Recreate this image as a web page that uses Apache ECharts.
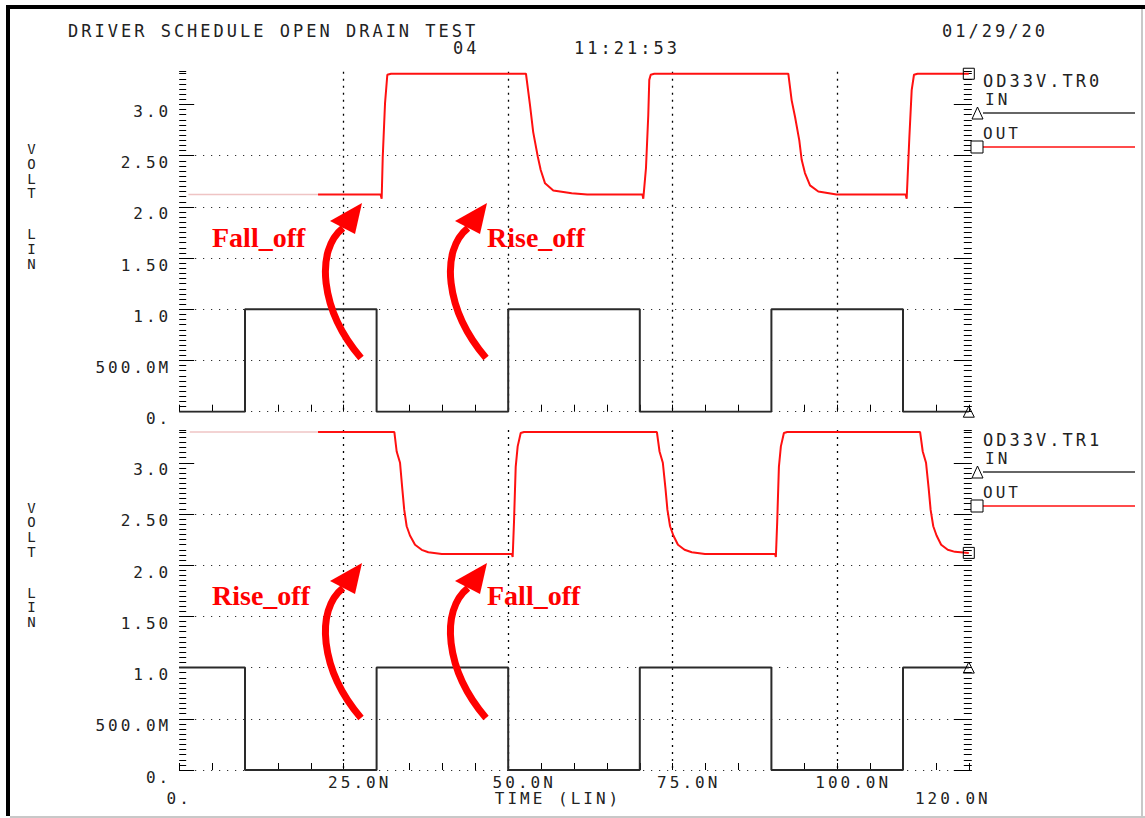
<!DOCTYPE html>
<html>
<head>
<meta charset="utf-8">
<script src="https://cdn.jsdelivr.net/npm/echarts@6/dist/echarts.min.js"></script>
<style>
html, body { margin: 0; padding: 0; background: #fff; }
#main { width: 1145px; height: 818px; }
#main text { letter-spacing: 3px; }
#main text[style*="Serif"] { letter-spacing: 0; }
</style>
</head>
<body>
<div id="main"></div>
<script>
// input square waves: edge times (ns) and levels (V)
var edgeTime = [0, 10, 30, 50, 70, 90, 110, 120];
var inLevel0 = [0, 1, 0, 1, 0, 1, 0, 0];
var inLevel1 = [1, 0, 1, 0, 1, 0, 1, 1];

// OUT of OD33V.TR0
var outTime0 = [1.4, 21.1, 30.6, 30.77, 30.93, 31.28, 31.63, 32.2,
    52.7, 53.3, 53.8, 54.5, 54.94, 55.6, 56.85, 59.65, 62,
    70.4, 70.53, 70.94, 71.29, 71.44, 71.66, 72.2,
    92.57, 93.08, 93.59, 94.24, 94.6, 95.1, 95.87, 97.13, 99.9,
    110.4, 110.56, 110.96, 111.32, 111.67, 112.2, 120];
var outVolt0 = [2.12, 2.12, 2.12, 2.08, 2.48, 3.01, 3.29, 3.30,
    3.30, 3.0, 2.73, 2.49, 2.36, 2.23, 2.16, 2.133, 2.12,
    2.12, 2.08, 2.38, 2.90, 3.24, 3.29, 3.30,
    3.30, 3.04, 2.88, 2.65, 2.46, 2.33, 2.21, 2.15, 2.12,
    2.12, 2.08, 2.67, 3.14, 3.29, 3.30, 3.30];

// OUT of OD33V.TR1
var outTime1 = [1.6, 21.1,
    32.7, 33.05, 33.56, 33.9, 34.2, 34.57, 35.07, 35.84, 36.85, 37.86, 39.9,
    50.55, 50.68, 50.88, 51.14, 51.44, 51.9, 52.4,
    72.6, 73.0, 73.5, 73.9, 74.2, 74.6, 75.1, 75.8, 76.8, 77.9, 79.9,
    90.55, 90.68, 90.88, 91.14, 91.44, 91.9, 92.4,
    112.6, 113.0, 113.5, 113.9, 114.2, 114.6, 115.1, 115.8, 116.8, 117.9, 120];
var outVolt1 = [3.30, 3.30,
    3.30, 3.11, 3.0, 2.75, 2.54, 2.38, 2.29, 2.20, 2.15, 2.126, 2.11,
    2.11, 2.08, 2.42, 2.96, 3.16, 3.29, 3.30,
    3.30, 3.11, 3.0, 2.75, 2.54, 2.38, 2.29, 2.20, 2.15, 2.126, 2.11,
    2.11, 2.08, 2.42, 2.96, 3.16, 3.29, 3.30,
    3.30, 3.11, 3.0, 2.75, 2.54, 2.38, 2.29, 2.20, 2.15, 2.13, 2.12];
var redFrom = 21.1;

var yTickValues = [0, 0.5, 1, 1.5, 2, 2.5, 3];
var yTickLabels = ['0.', '500.0M', '1.0', '1.50', '2.0', '2.50', '3.0'];
var xTickValues = [25, 50, 75, 100];
var xTickLabels = ['25.0N', '50.0N', '75.0N', '100.0N'];
var xEndValues = [0, 120];
var xEndLabels = ['0.', '120.0N'];
var yMax = 3.32;

var MONO = 'DejaVu Sans Mono';
var INK = '#222';

var chart = echarts.init(document.getElementById('main'), null, { renderer: 'svg' });

function pairs(ts, vs) {
    return ts.map(function (t, i) { return [t, vs[i]]; });
}
function markLast(pts, sym, size) {
    var n = pts.length - 1;
    pts[n] = {
        value: pts[n], symbol: sym, symbolSize: size,
        itemStyle: { color: 'rgba(0,0,0,0)', borderColor: '#000', borderWidth: 1 }
    };
    return pts;
}

function yAxes(g) {
    var base = { gridIndex: g, type: 'value', min: 0, max: yMax, axisLine: { show: false, onZero: false }, splitLine: { show: false }, axisLabel: { show: false } };
    var tickStyle = { color: '#000', width: 1 };
    return [
        Object.assign({}, base, {
            position: 'left', interval: 0.5,
            axisTick: { show: true, inside: true, length: 15, customValues: yTickValues, lineStyle: tickStyle },
            axisLabel: {
                show: true, customValues: yTickValues, margin: 8, verticalAlign: 'top', lineHeight: 14,
                color: INK, fontFamily: MONO, fontSize: 16,
                formatter: function (v) { var i = yTickValues.indexOf(v); return i < 0 ? '' : yTickLabels[i]; }
            },
            splitLine: { show: true, showMaxLine: false, lineStyle: { color: '#000', width: 1, type: [1, 7] } }
        }),
        Object.assign({}, base, { position: 'left', interval: 0.05, axisTick: { show: true, inside: true, length: 7, lineStyle: tickStyle } }),
        Object.assign({}, base, { position: 'right', offset: 3, interval: 0.5, axisTick: { show: true, inside: true, length: 18, customValues: yTickValues, lineStyle: tickStyle } }),
        Object.assign({}, base, { position: 'right', offset: 3, interval: 0.05, axisTick: { show: true, inside: true, length: 8, lineStyle: tickStyle } })
    ];
}

function xAxes(g, labels) {
    var base = { gridIndex: g, type: 'value', position: 'bottom', min: 0, max: 120, axisLine: { show: false, onZero: false }, splitLine: { show: false }, axisLabel: { show: false }, axisTick: { show: false } };
    var list = [
        Object.assign({}, base, {
            interval: 25,
            splitLine: { show: true, showMinLine: false, showMaxLine: false, lineStyle: { color: '#000', width: 1.3, type: [2, 5] } },
            axisLabel: labels ? {
                show: true, customValues: xTickValues, margin: 5, align: 'center', padding: [0, 0, 0, 32], lineHeight: 14,
                color: INK, fontFamily: MONO, fontSize: 16,
                formatter: function (v) { var i = xTickValues.indexOf(v); return i < 0 ? '' : xTickLabels[i]; }
            } : { show: false }
        }),
        Object.assign({}, base, { interval: 5, axisTick: { show: true, inside: true, length: 7, lineStyle: { color: '#000', width: 1 } } })
    ];
    if (labels) {
        list.push(Object.assign({}, base, {
            name: 'TIME (LIN)', nameLocation: 'middle', nameGap: 21, nameMoveOverlap: false,
            nameTextStyle: { color: INK, fontFamily: MONO, fontSize: 16, lineHeight: 14, padding: [0, 32, 0, 0], verticalAlign: 'top' },
            axisLabel: {
                show: true, customValues: xEndValues, margin: 21, color: INK, fontFamily: MONO, fontSize: 16, lineHeight: 14,
                formatter: function (v) { return v === 0 ? '{a|' + xEndLabels[0] + '}' : '{b|' + xEndLabels[1] + '}'; },
                rich: {
                    a: { color: INK, fontFamily: MONO, fontSize: 16, lineHeight: 14 },
                    b: { color: INK, fontFamily: MONO, fontSize: 16, lineHeight: 14, padding: [0, 32, 0, 0] }
                }
            }
        }));
    }
    return list;
}

function panelSeries(xi, yi, inLevels, outT, outV) {
    var outPts = pairs(outT, outV);
    var pre = outPts.filter(function (p) { return p[0] <= redFrom; });
    var main = markLast(outPts.filter(function (p) { return p[0] >= redFrom; }), 'rect', 11);
    return [
        {
            name: 'IN', type: 'line', xAxisIndex: xi, yAxisIndex: yi, step: 'end',
            data: markLast(pairs(edgeTime, inLevels), 'triangle', [11, 11]),
            symbol: 'none', showSymbol: true, silent: true, z: 3,
            lineStyle: { color: '#2a2a2a', width: 2 }, itemStyle: { color: '#2a2a2a' }
        },
        {
            name: 'OUT lead', type: 'line', xAxisIndex: xi, yAxisIndex: yi, data: pre,
            symbol: 'none', silent: true, z: 3, lineStyle: { color: '#efc4c4', width: 1.5 }
        },
        {
            name: 'OUT', type: 'line', xAxisIndex: xi, yAxisIndex: yi, data: main,
            symbol: 'none', showSymbol: true, silent: true, z: 4,
            lineStyle: { color: '#ff1010', width: 2 }, itemStyle: { color: '#ff1010' }
        }
    ];
}

function txt(x, y, s, size, align, vAlign, lh) {
    var style = { text: s, fill: INK, font: size + 'px "' + MONO + '"', textAlign: align || 'left', textVerticalAlign: vAlign || 'middle', lineHeight: lh || 13 };
    return { type: 'text', x: x, y: y, z: 50, silent: true, style: style };
}

function legendBlock(y0, file) {
    return [
        txt(983, y0, file, 17),
        txt(985, y0 + 18, 'IN', 16),
        { type: 'line', z: 50, silent: true, shape: { x1: 983, y1: y0 + 32, x2: 1135, y2: y0 + 32 }, style: { stroke: '#333', lineWidth: 1.5 } },
        { type: 'polygon', z: 51, silent: true, shape: { points: [[977.5, y0 + 26], [972, y0 + 38], [983, y0 + 38]] }, style: { fill: '#fff', stroke: '#000', lineWidth: 1 } },
        txt(983, y0 + 52, 'OUT', 16),
        { type: 'line', z: 50, silent: true, shape: { x1: 983, y1: y0 + 66, x2: 1135, y2: y0 + 66 }, style: { stroke: '#ff1010', lineWidth: 1.5 } },
        { type: 'rect', z: 51, silent: true, shape: { x: 971, y: y0 + 60, width: 12, height: 12 }, style: { fill: '#fff', stroke: '#000', lineWidth: 1 } }
    ];
}

function voltLabel(dy) {
    return [
        txt(33, 141.6 + dy, 'V\nO\nL\nT', 14, 'center', 'top', 14.8),
        txt(33, 226.7 + dy, 'L\nI\nN', 14, 'center', 'top', 14.8)
    ];
}

function arrow(dx, dy) {
    return [
        {
            type: 'bezierCurve', z: 60, silent: true,
            shape: { x1: 361 + dx, y1: 358 + dy, cpx1: 320 + dx, cpy1: 310 + dy, cpx2: 315 + dx, cpy2: 250 + dy, x2: 343 + dx, y2: 228 + dy },
            style: { stroke: '#ff0000', lineWidth: 7, fill: null }
        },
        {
            type: 'polygon', z: 61, silent: true,
            shape: { points: [[362 + dx, 203 + dy], [330 + dx, 221 + dy], [355 + dx, 234 + dy]] },
            style: { fill: '#ff0000' }
        }
    ];
}

function note(x, y, s) {
    return {
        type: 'text', x: x, y: y, z: 60, silent: true,
        style: { text: s, fill: '#ff0000', font: 'bold 28px "Liberation Serif"', textAlign: 'left', textVerticalAlign: 'middle' }
    };
}

var graphics = [
    { type: 'rect', silent: true, shape: { x: 6, y: 5, width: 1139, height: 4 }, style: { fill: '#000' } },
    { type: 'rect', silent: true, shape: { x: 6, y: 5, width: 4, height: 811 }, style: { fill: '#000' } },
    { type: 'rect', silent: true, shape: { x: 10, y: 816, width: 1135, height: 2 }, style: { fill: '#c8c8c8' } },
    { type: 'rect', silent: true, shape: { x: 1141, y: 9, width: 2, height: 809 }, style: { fill: '#c8c8c8' } },
    txt(68, 31, 'DRIVER SCHEDULE OPEN DRAIN TEST', 17),
    txt(453, 47.5, '04', 17),
    txt(574, 47.5, '11:21:53', 17),
    txt(942, 31, '01/29/20', 17)
].concat(voltLabel(0), voltLabel(358.5),
    legendBlock(81, 'OD33V.TR0'), legendBlock(440, 'OD33V.TR1'),
    arrow(0, 0), arrow(125, 0), arrow(0, 360), arrow(125, 360),
    [note(212, 237, 'Fall_off'), note(487, 237, 'Rise_off'), note(212, 595, 'Rise_off'), note(487, 595, 'Fall_off')]);

var option = {
    backgroundColor: '#fff',
    animation: false,
    grid: [
        { left: 179.2, width: 789.6, top: 71.7, height: 340 },
        { left: 179.2, width: 789.6, top: 430, height: 340 }
    ],
    xAxis: xAxes(0, false).concat(xAxes(1, true)),
    yAxis: yAxes(0).concat(yAxes(1)),
    series: panelSeries(0, 0, inLevel0, outTime0, outVolt0).concat(panelSeries(2, 4, inLevel1, outTime1, outVolt1)),
    graphic: graphics
};
chart.setOption(option);
window.addEventListener('resize', chart.resize);
</script>
</body>
</html>
